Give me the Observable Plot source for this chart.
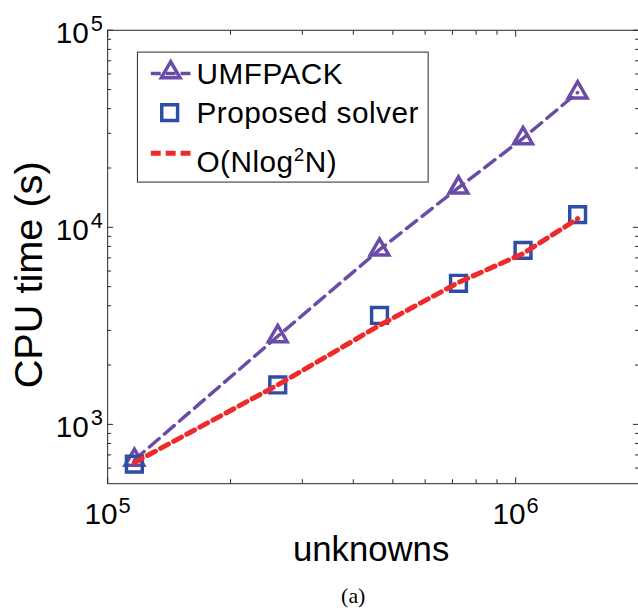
<!DOCTYPE html>
<html>
<head>
<meta charset="utf-8">
<script src="https://cdn.jsdelivr.net/npm/d3@7"></script>
<script src="https://cdn.jsdelivr.net/npm/@observablehq/plot@0.6"></script>
<style>
  html, body { margin: 0; padding: 0; background: #fff; overflow: hidden; width: 638px; height: 614px; }
  #chart svg { display: block; }
</style>
</head>
<body>
<div id="chart"></div>
<script>
// ---- data ----
const unknowns     = [116281, 261121, 463761, 724201, 1042441, 1418481];
const umfpackTime  = [660, 2800, 7700, 15900, 28300, 48300];
const proposedTime = [628, 1585, 3570, 5200, 7640, 11600];
const referenceTime = [640, 1585, 3180, 5250, 7360, 11060];

const seriesNames = ["UMFPACK", "Proposed solver", "O(Nlog2N)"];
const xMajorTicks = [1e5, 1e6];
const xMinorTicks = [2e5, 3e5, 4e5, 5e5, 6e5, 7e5, 8e5, 9e5];
const yMajorTicks = [1e3, 1e4, 1e5];
const yMinorTicks = [600, 700, 800, 900, 2e3, 3e3, 4e3, 5e3, 6e3, 7e3, 8e3, 9e3, 2e4, 3e4, 4e4, 5e4, 6e4, 7e4, 8e4, 9e4];
const xTickExponents = ["5", "6"];
const yTickExponents = ["3", "4", "5"];

const umf = unknowns.map((n, i) => ({n, t: umfpackTime[i]}));
const prop = unknowns.map((n, i) => ({n, t: proposedTime[i]}));
const ref = unknowns.map((n, i) => ({n, t: referenceTime[i]}));

const PURPLE = "#6a4ba8", BLUE = "#2d4ea4", RED = "#ee2a2a", AXIS = "#262626";
const FONT = "'Liberation Sans', Arial, Helvetica, sans-serif";

const axisStyle = {stroke: AXIS, strokeWidth: 1, tickFormat: () => "", label: null};

const chart = Plot.plot({
  width: 643,
  height: 614,
  marginLeft: 108,
  marginRight: 0,
  marginTop: 30,
  marginBottom: 127,
  style: {fontFamily: FONT, background: "white", overflow: "visible"},
  x: {type: "log", domain: [1e5, 2e6]},
  y: {type: "log", domain: [500, 1e5]},
  marks: [
    // inward ticks on all four sides
    Plot.axisX({...axisStyle, anchor: "bottom", ticks: xMajorTicks, tickSize: -6}),
    Plot.axisX({...axisStyle, anchor: "bottom", ticks: xMinorTicks, tickSize: -4}),
    Plot.axisX({...axisStyle, anchor: "top", ticks: xMajorTicks, tickSize: -6}),
    Plot.axisX({...axisStyle, anchor: "top", ticks: xMinorTicks, tickSize: -4}),
    Plot.axisY({...axisStyle, anchor: "left", ticks: yMajorTicks, tickSize: -6}),
    Plot.axisY({...axisStyle, anchor: "left", ticks: yMinorTicks, tickSize: -4}),
    Plot.axisY({...axisStyle, anchor: "right", ticks: yMajorTicks, tickSize: -6}),
    Plot.axisY({...axisStyle, anchor: "right", ticks: yMinorTicks, tickSize: -4}),
    Plot.frame({stroke: AXIS, strokeWidth: 1}),
    // tick labels 10^k
    Plot.text(xMajorTicks, {x: d => d, frameAnchor: "bottom", text: () => "10", textAnchor: "end", lineAnchor: "bottom", dx: 10, dy: 41, fontSize: 30, fill: "black"}),
    Plot.text(xMajorTicks, {x: d => d, frameAnchor: "bottom", text: (d, i) => xTickExponents[i], textAnchor: "start", lineAnchor: "bottom", dx: 11, dy: 30, fontSize: 22, fill: "black"}),
    Plot.text(yMajorTicks, {y: d => d, frameAnchor: "left", text: () => "10", textAnchor: "end", lineAnchor: "bottom", dx: -19, dy: 13, fontSize: 30, fill: "black"}),
    Plot.text(yMajorTicks, {y: d => d, frameAnchor: "left", text: (d, i) => yTickExponents[i], textAnchor: "start", lineAnchor: "bottom", dx: -17, dy: 1, fontSize: 22, fill: "black"}),
    // axis titles
    Plot.text(["unknowns"], {frameAnchor: "bottom", text: d => d, textAnchor: "middle", lineAnchor: "bottom", dx: -2, dy: 78, fontSize: 35, letterSpacing: 0.6, fill: "black"}),
    Plot.text(["CPU time (s)"], {frameAnchor: "left", text: d => d, textAnchor: "middle", rotate: -90, dx: -79, dy: 18, fontSize: 40, fill: "black"}),
    Plot.text(["(a)"], {frameAnchor: "bottom", text: d => d, textAnchor: "middle", lineAnchor: "bottom", dx: -20, dy: 120, fontSize: 22, fontFamily: "'Liberation Serif', 'Times New Roman', serif", fill: "black"}),
    // data
    Plot.line(umf, {x: "n", y: "t", stroke: PURPLE, strokeWidth: 3.5, strokeDasharray: "13,7"}),
    Plot.dot(umf, {x: "n", y: "t", symbol: "triangle", r: 7, stroke: PURPLE, strokeWidth: 3.5, fill: "none"}),
    Plot.dot(prop, {x: "n", y: "t", symbol: "square", r: 9, stroke: BLUE, strokeWidth: 3.5, fill: "none"}),
    Plot.line(ref, {x: "n", y: "t", stroke: RED, strokeWidth: 5, strokeDasharray: "9,6"})
  ]
});

document.getElementById("chart").appendChild(chart);

// ---- legend (MATLAB-style box) ----
const svg = d3.select(chart);
const lg = svg.append("g").attr("font-family", FONT).attr("text-anchor", "start").attr("fill", "black");
lg.append("rect").attr("x", 138.5).attr("y", 52.5).attr("width", 293).attr("height", 131)
  .attr("fill", "white").attr("stroke", AXIS).attr("stroke-width", 1);

// row 1: UMFPACK
lg.append("line").attr("x1", 152).attr("x2", 193).attr("y1", 74).attr("y2", 74)
  .attr("stroke", PURPLE).attr("stroke-width", 3.5).attr("stroke-dasharray", "10,5");
lg.append("path").attr("d", d3.symbol(d3.symbolTriangle, Math.PI * 49)())
  .attr("transform", "translate(172,73)").attr("fill", "none").attr("stroke", PURPLE).attr("stroke-width", 3.5);
lg.append("text").attr("x", 198).attr("y", 85).attr("font-size", 30).attr("letter-spacing", 0.5).text(seriesNames[0]);

// row 2: Proposed solver
lg.append("path").attr("d", d3.symbol(d3.symbolSquare, Math.PI * 81)())
  .attr("transform", "translate(171,113.5)").attr("fill", "none").attr("stroke", BLUE).attr("stroke-width", 3.5);
lg.append("text").attr("x", 198).attr("y", 124).attr("font-size", 30).attr("letter-spacing", 0.5).text(seriesNames[1]);

// row 3: O(Nlog^2N)
lg.append("line").attr("x1", 152).attr("x2", 193).attr("y1", 154.5).attr("y2", 154.5)
  .attr("stroke", RED).attr("stroke-width", 5).attr("stroke-dasharray", "10,5");
const t3 = lg.append("text").attr("x", 198).attr("y", 173).attr("font-size", 30).attr("letter-spacing", 0.5);
t3.append("tspan").text("O(Nlog");
t3.append("tspan").attr("font-size", 19).attr("dy", -11).text("2");
t3.append("tspan").attr("dy", 11).text("N)");
</script>
</body>
</html>
